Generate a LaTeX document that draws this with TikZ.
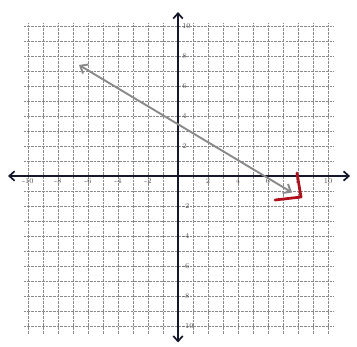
\documentclass[tikz,border=0pt]{standalone}
\usepackage{xcolor}
\usepackage{tikz}
\usetikzlibrary{arrows.meta}
\definecolor{PencilGray}{HTML}{8A8A8A}
\definecolor{InkBlack}{HTML}{14182A}
\definecolor{MarkerRed}{HTML}{B0101C}

\begin{document}
\begin{tikzpicture}[x=0.5cm, y=0.5cm,
        gridline/.style={PencilGray, line width=0.6pt, dash pattern=on 2.5pt off 1pt},
        axisline/.style={InkBlack, line width=1.6pt, {Straight Barb[length=5pt,width=9pt]}-{Straight Barb[length=5pt,width=9pt]}},
        ticklabel/.style={font=\scriptsize, text=black!70, inner sep=1pt},
        pencilline/.style={PencilGray, line width=1.8pt, {Straight Barb[length=6pt,width=10pt]}-{Straight Barb[length=6pt,width=10pt]}},
        redmark/.style={MarkerRed, line width=2.6pt, line cap=round, line join=round}]
        \useasboundingbox (-11.867,-11.4) rectangle (11.933,11.733);
        \fill[white] (-11.867,-11.4) rectangle (11.933,11.733);
        % graph paper
        \foreach \k in {-10,...,10} {
          \draw[gridline] (\k,-10.5) -- (\k,10.2);
          \draw[gridline] (-10.3,\k) -- (10.4,\k);
        }
        % axes
        \coordinate (xmin) at (-11.33,0);
        \coordinate (xmax) at (11.47,0);
        \coordinate (ymax) at (0,10.93);
        \coordinate (ymin) at (0,-11.1);
        \draw[axisline] (xmin) -- (xmax);
        \draw[axisline] (ymin) -- (ymax);
        \foreach \v in {-10,-8,-6,-4,-2,2,4,6,8,10} {
          \node[ticklabel, below] (xl\v) at (\v,-0.1) {\v};
          \node[ticklabel, right] (yl\v) at (0.2,\v) {\v};
        }
        % the line
        \coordinate (lineA) at (-6.6,7.4);
        \coordinate (lineB) at (7.6,-1.1);
        \draw[pencilline] (lineA) -- (lineB);
        % red arrowhead
        \coordinate (redA) at (7.93,0.2);
        \coordinate (redB) at (8.2,-1.4);
        \coordinate (redC) at (6.47,-1.6);
        \draw[redmark] (redA) -- (redB) -- (redC);
      \end{tikzpicture}
\end{document}
